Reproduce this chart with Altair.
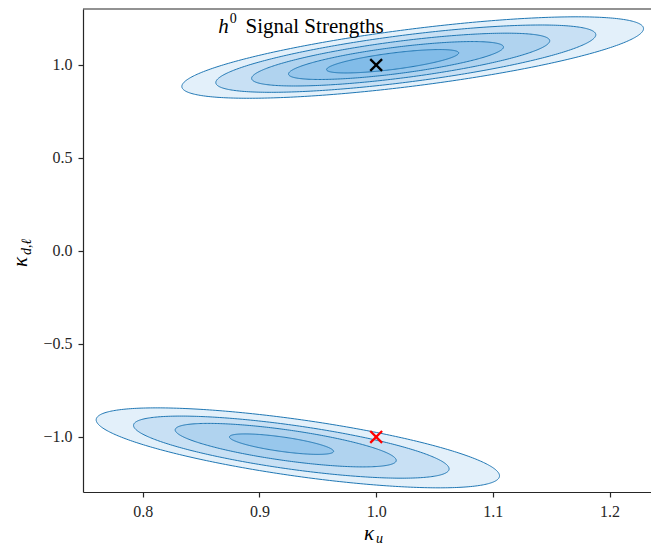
import numpy as np
import pandas as pd
import altair as alt

# ---- data ----
# upper group (kappa_d,l ~ +1): five nested contours, outer -> inner
top_cx = [1.0313, 1.0254, 1.0210, 1.0170, 1.0141]
top_cy = [1.040, 1.034, 1.029, 1.024, 1.020]
top_sx = [0.1978, 0.1628, 0.1277, 0.0921, 0.0566]
top_sy = [0.219, 0.181, 0.142, 0.102, 0.063]
top_rho = 0.71
# lower group (kappa_d,l ~ -1): four nested contours, outer -> inner
bot_cx = [0.9329, 0.9273, 0.9225, 0.9189]
bot_cy = [-1.0586, -1.0548, -1.0441, -1.0387]
bot_sx = [0.1728, 0.1352, 0.0947, 0.0446]
bot_sy = [0.215, 0.167, 0.117, 0.0551]
bot_rho = -0.70

level_fills = ["#e3f0fa", "#c8e0f4", "#b0d3ef", "#98c7ec", "#82bce8"]
edge_color = "#1f77b4"

marker_x = [1.0, 1.0]
marker_y = [1.0, -1.0]
marker_colors = ["black", "red"]

x_ticks = [0.8, 0.9, 1.0, 1.1, 1.2]
y_ticks = [-1.0, -0.5, 0.0, 0.5, 1.0]
x_domain = [0.7488, 1.2355]
y_domain = [-1.296, 1.301]

title_h = {"x": 0.8646, "y": 1.204}
title_sup = {"x": 0.8745, "y": 1.245}
title_rest = {"x": 0.8880, "y": 1.204}

W, H = 568, 483
SERIF = "Liberation Serif"

xs = alt.Scale(domain=x_domain, nice=False, zero=False)
ys = alt.Scale(domain=y_domain, nice=False, zero=False)
xa = alt.Axis(values=x_ticks, format=".1f", title=None, grid=False)
ya = alt.Axis(values=y_ticks, format=".1f", title=None, grid=False)


def ellipse_frames(cx, cy, sx, sy, rho):
    t = np.linspace(0, np.pi, 181)
    u = np.cos(t)[::-1]
    k = np.sqrt(1 - rho ** 2)
    x = cx + sx * u
    ylo = cy + sy * (rho * u - k * np.sqrt(np.clip(1 - u ** 2, 0, None)))
    yhi = cy + sy * (rho * u + k * np.sqrt(np.clip(1 - u ** 2, 0, None)))
    area = pd.DataFrame({"x": x, "y": ylo, "y2": yhi})
    tt = np.linspace(0, 2 * np.pi, 361)
    ox = cx + sx * np.cos(tt)
    oy = cy + sy * (rho * np.cos(tt) + k * np.sin(tt))
    outline = pd.DataFrame({"x": ox, "y": oy, "o": np.arange(len(tt))})
    return area, outline


layers = []
for cxs, cys, sxs, sys_, rho in [(top_cx, top_cy, top_sx, top_sy, top_rho),
                                  (bot_cx, bot_cy, bot_sx, bot_sy, bot_rho)]:
    for i in range(len(cxs)):
        area, outline = ellipse_frames(cxs[i], cys[i], sxs[i], sys_[i], rho)
        layers.append(
            alt.Chart(area).mark_area(color=level_fills[i], clip=True).encode(
                x=alt.X("x:Q", scale=xs, axis=xa),
                y=alt.Y("y:Q", scale=ys, axis=ya),
                y2="y2:Q",
            )
        )
        layers.append(
            alt.Chart(outline).mark_line(color=edge_color, strokeWidth=1.0, clip=True).encode(
                x=alt.X("x:Q", scale=xs, axis=xa),
                y=alt.Y("y:Q", scale=ys, axis=ya),
                order="o:Q",
            )
        )

mk = pd.DataFrame({"x": marker_x, "y": marker_y, "c": marker_colors})
markers = alt.Chart(mk).mark_point(
    shape="M-1,-1L1,1M1,-1L-1,1", size=140, strokeWidth=2.3, filled=False, opacity=1
).encode(
    x=alt.X("x:Q", scale=xs, axis=xa),
    y=alt.Y("y:Q", scale=ys, axis=ya),
    color=alt.Color("c:N", scale=None),
)
layers.append(markers)

one = pd.DataFrame({"a": [0]})

# top spine of the frame
layers.append(alt.Chart(one).mark_rule(color="#262626", strokeWidth=1.2).encode(
    x=alt.value(0), x2=alt.value(W), y=alt.value(0)))

layers.append(alt.Chart(pd.DataFrame(title_h, index=[0])).mark_text(
    text="h", font=SERIF, fontStyle="italic", fontSize=21, align="left", baseline="middle", color="black"
).encode(x=alt.X("x:Q", scale=xs, axis=xa), y=alt.Y("y:Q", scale=ys, axis=ya)))
layers.append(alt.Chart(pd.DataFrame(title_sup, index=[0])).mark_text(
    text="0", font=SERIF, fontSize=14, align="left", baseline="middle", color="black"
).encode(x=alt.X("x:Q", scale=xs, axis=xa), y=alt.Y("y:Q", scale=ys, axis=ya)))
layers.append(alt.Chart(pd.DataFrame(title_rest, index=[0])).mark_text(
    text="Signal Strengths", font=SERIF, fontSize=21, align="left", baseline="middle", color="black"
).encode(x=alt.X("x:Q", scale=xs, axis=xa), y=alt.Y("y:Q", scale=ys, axis=ya)))

# axis titles (kappa with subscripts)
layers.append(alt.Chart(one).mark_text(
    text="κ", font=SERIF, fontStyle="italic", fontSize=21, align="center", baseline="middle", color="black"
).encode(x=alt.value(286), y=alt.value(525)))
layers.append(alt.Chart(one).mark_text(
    text="u", font=SERIF, fontStyle="italic", fontSize=14, align="left", baseline="middle", color="black"
).encode(x=alt.value(293), y=alt.value(530)))
layers.append(alt.Chart(one).mark_text(
    text="κ", font=SERIF, fontStyle="italic", fontSize=21, angle=270, align="center", baseline="middle", color="black"
).encode(x=alt.value(-62), y=alt.value(253)))
layers.append(alt.Chart(one).mark_text(
    text="d,ℓ", font=SERIF, fontStyle="italic", fontSize=14, angle=270, align="left", baseline="middle", color="black"
).encode(x=alt.value(-56), y=alt.value(246)))

chart = alt.layer(*layers).properties(
    width=W, height=H,
    autosize=alt.AutoSizeParams(type="none"),
    padding={"left": 75, "top": 1, "right": 0, "bottom": 55},
).configure_view(stroke=None).configure_axis(
    domainColor="#262626", domainWidth=1.2, tickColor="#262626", tickWidth=1.2, tickSize=5,
    labelFont=SERIF, labelFontSize=16, labelColor="#262626", labelPadding=6,
)

chart.save("out.html", embed_options={"renderer": "svg", "actions": False})
